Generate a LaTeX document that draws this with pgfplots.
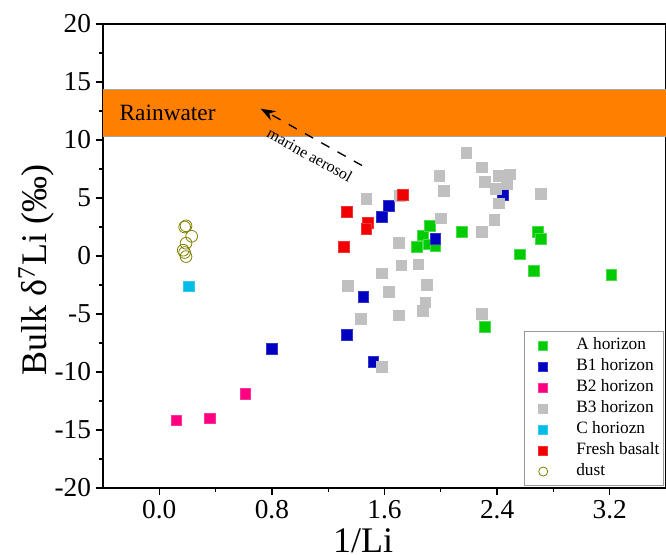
\documentclass[border=0pt]{standalone}
\usepackage{pgfplots}
\pgfplotsset{compat=1.18}
\usepackage{fontspec}
\setmainfont{Liberation Serif}
\usetikzlibrary{arrows.meta}

\definecolor{cA}{RGB}{0,204,0}
\definecolor{cB1}{RGB}{0,0,192}
\definecolor{cB2}{RGB}{255,0,128}
\definecolor{cB3}{RGB}{192,192,192}
\definecolor{cC}{RGB}{0,188,230}
\definecolor{cFB}{RGB}{240,0,0}
\definecolor{cDust}{RGB}{128,128,0}
\definecolor{band}{RGB}{255,128,0}

\begin{document}
\begin{tikzpicture}
\begin{axis}[
  scale only axis,
  width=422.25pt, height=348pt,
  xmin=-0.4, xmax=3.6, ymin=-20, ymax=20,
  xtick={0,0.8,1.6,2.4,3.2},
  minor xtick={0.4,1.2,2.0,2.8},
  ytick={-20,-15,...,20},
  minor ytick={-17.5,-12.5,-7.5,-2.5,2.5,7.5,12.5,17.5},
  xtick pos=bottom, ytick pos=left,
  tick align=outside,
  major tick length=5.5pt, minor tick length=3pt,
  every tick/.style={black, line width=1pt},
  axis line style={line width=1.1pt},
  /pgf/number format/assume math mode=true,
  xticklabel style={/pgf/number format/.cd, fixed, fixed zerofill, precision=1},
  ticklabel style={font=\fontsize{20.5}{24}\selectfont},
  xlabel={1/Li},
  ylabel={Bulk δ\textsuperscript{7}Li (‰)},
  label style={font=\fontsize{27}{31}\selectfont},
  xlabel style={at={(axis description cs:0.462,-0.138)}, anchor=base},
  ylabel style={at={(axis description cs:-0.0995,0.47)}, anchor=base},
  legend style={at={(rel axis cs:0.9964,0.0045)}, anchor=south east,
    draw=gray!80, line width=0.6pt, fill=white,
    font=\fontsize{13}{15}\selectfont,
    inner xsep=3pt, inner ysep=4.5pt, row sep=3.75pt,
    nodes={inner sep=0pt, text height=9pt, text depth=3pt}},
  legend cell align=left,
  legend image code/.code={\path (0,0) (35pt,0);
    \draw[#1, mark size=3.4pt] plot coordinates {(10.5pt,0pt)};},
  clip=true,
]
% rainwater band
\addplot[fill=band, draw=none, forget plot] coordinates
  {(-0.4,10.3) (3.6,10.3) (3.6,14.35) (-0.4,14.35) (-0.4,10.3)};
\addplot[gray!70, line width=0.6pt, forget plot] coordinates {(-0.4,10.3) (3.6,10.3)};
\addplot[gray!70, line width=0.6pt, forget plot] coordinates {(-0.4,14.35) (3.6,14.35)};
\node[font=\fontsize{17.5}{20}\selectfont, anchor=west] at (axis cs:-0.315,12.35) {Rainwater};
% marine aerosol arrow
\addplot[black, line width=1pt, dash pattern=on 7pt off 7pt,
  -{Stealth[length=11pt, width=8pt]}, forget plot] coordinates {(1.44,7.8) (0.72,12.7)};
\node[font=\fontsize{12}{14}\selectfont, rotate=-29] at (axis cs:1.07,8.7) {marine aerosol};

% A horizon
\addplot[only marks, mark=square*, mark size=4pt, cA, mark options={draw=cA!70!white, fill=cA}] coordinates {
  (1.83,0.8) (1.87,1.8) (1.92,2.6) (1.91,1.0) (1.96,0.9) (2.15,2.1)
  (2.31,-6.1) (2.56,0.15) (2.66,-1.3) (2.69,2.1) (2.71,1.5) (3.21,-1.6)};
\addlegendentry{A horizon}
% B1 horizon
\addplot[only marks, mark=square*, mark size=4pt, cB1, mark options={draw=cB1!80!white, fill=cB1}] coordinates {
  (0.80,-8.0) (1.33,-6.8) (1.45,-3.5) (1.52,-9.1) (1.58,3.4) (1.63,4.35)
  (1.96,1.5) (2.44,5.3)};
\addlegendentry{B1 horizon}
% B2 horizon
\addplot[only marks, mark=square*, mark size=4pt, cB2, mark options={draw=cB2!80!white, fill=cB2}] coordinates {
  (0.12,-14.15) (0.36,-14.0) (0.61,-11.9)};
\addlegendentry{B2 horizon}
% B3 horizon
\addplot[only marks, mark=square*, mark size=4pt, cB3, mark options={draw=cB3, fill=cB3}] coordinates {
  (1.47,4.95) (1.71,5.2) (1.70,1.15) (1.72,-0.8) (1.58,-1.5) (1.34,-2.55)
  (1.63,-3.1) (1.84,-0.7) (1.90,-2.5) (1.89,-4.0) (1.87,-4.7) (1.70,-5.1)
  (1.43,-5.4) (1.58,-9.55) (1.99,6.9) (2.02,5.65) (2.00,3.25) (2.18,8.9)
  (2.29,7.65) (2.31,6.4) (2.41,6.9) (2.49,7.05) (2.47,6.25) (2.39,5.8)
  (2.41,4.55) (2.38,3.1) (2.29,2.1) (2.29,-5.0) (2.71,5.35)};
\addlegendentry{B3 horizon}
% C horizon
\addplot[only marks, mark=square*, mark size=4pt, cC, mark options={draw=cC!80!white, fill=cC}] coordinates {
  (0.21,-2.6)};
\addlegendentry{C horiozn}
% Fresh basalt
\addplot[only marks, mark=square*, mark size=4pt, cFB, mark options={draw=cFB!80!white, fill=cFB}] coordinates {
  (1.33,3.8) (1.31,0.8) (1.48,2.85) (1.47,2.35) (1.73,5.3)};
\addlegendentry{Fresh basalt}
% dust
\addplot[only marks, mark=o, mark size=4.4pt, cDust, line width=0.6pt] coordinates {
  (0.19,2.6) (0.18,2.5) (0.23,1.7) (0.19,1.1) (0.17,0.5) (0.18,0.3) (0.19,-0.05)};
\addlegendentry{dust}
\end{axis}
\pgfresetboundingbox
\path ([xshift=-77.25pt,yshift=-49.5pt]current axis.south west) rectangle ([yshift=18pt]current axis.north east);
\end{tikzpicture}
\end{document}
